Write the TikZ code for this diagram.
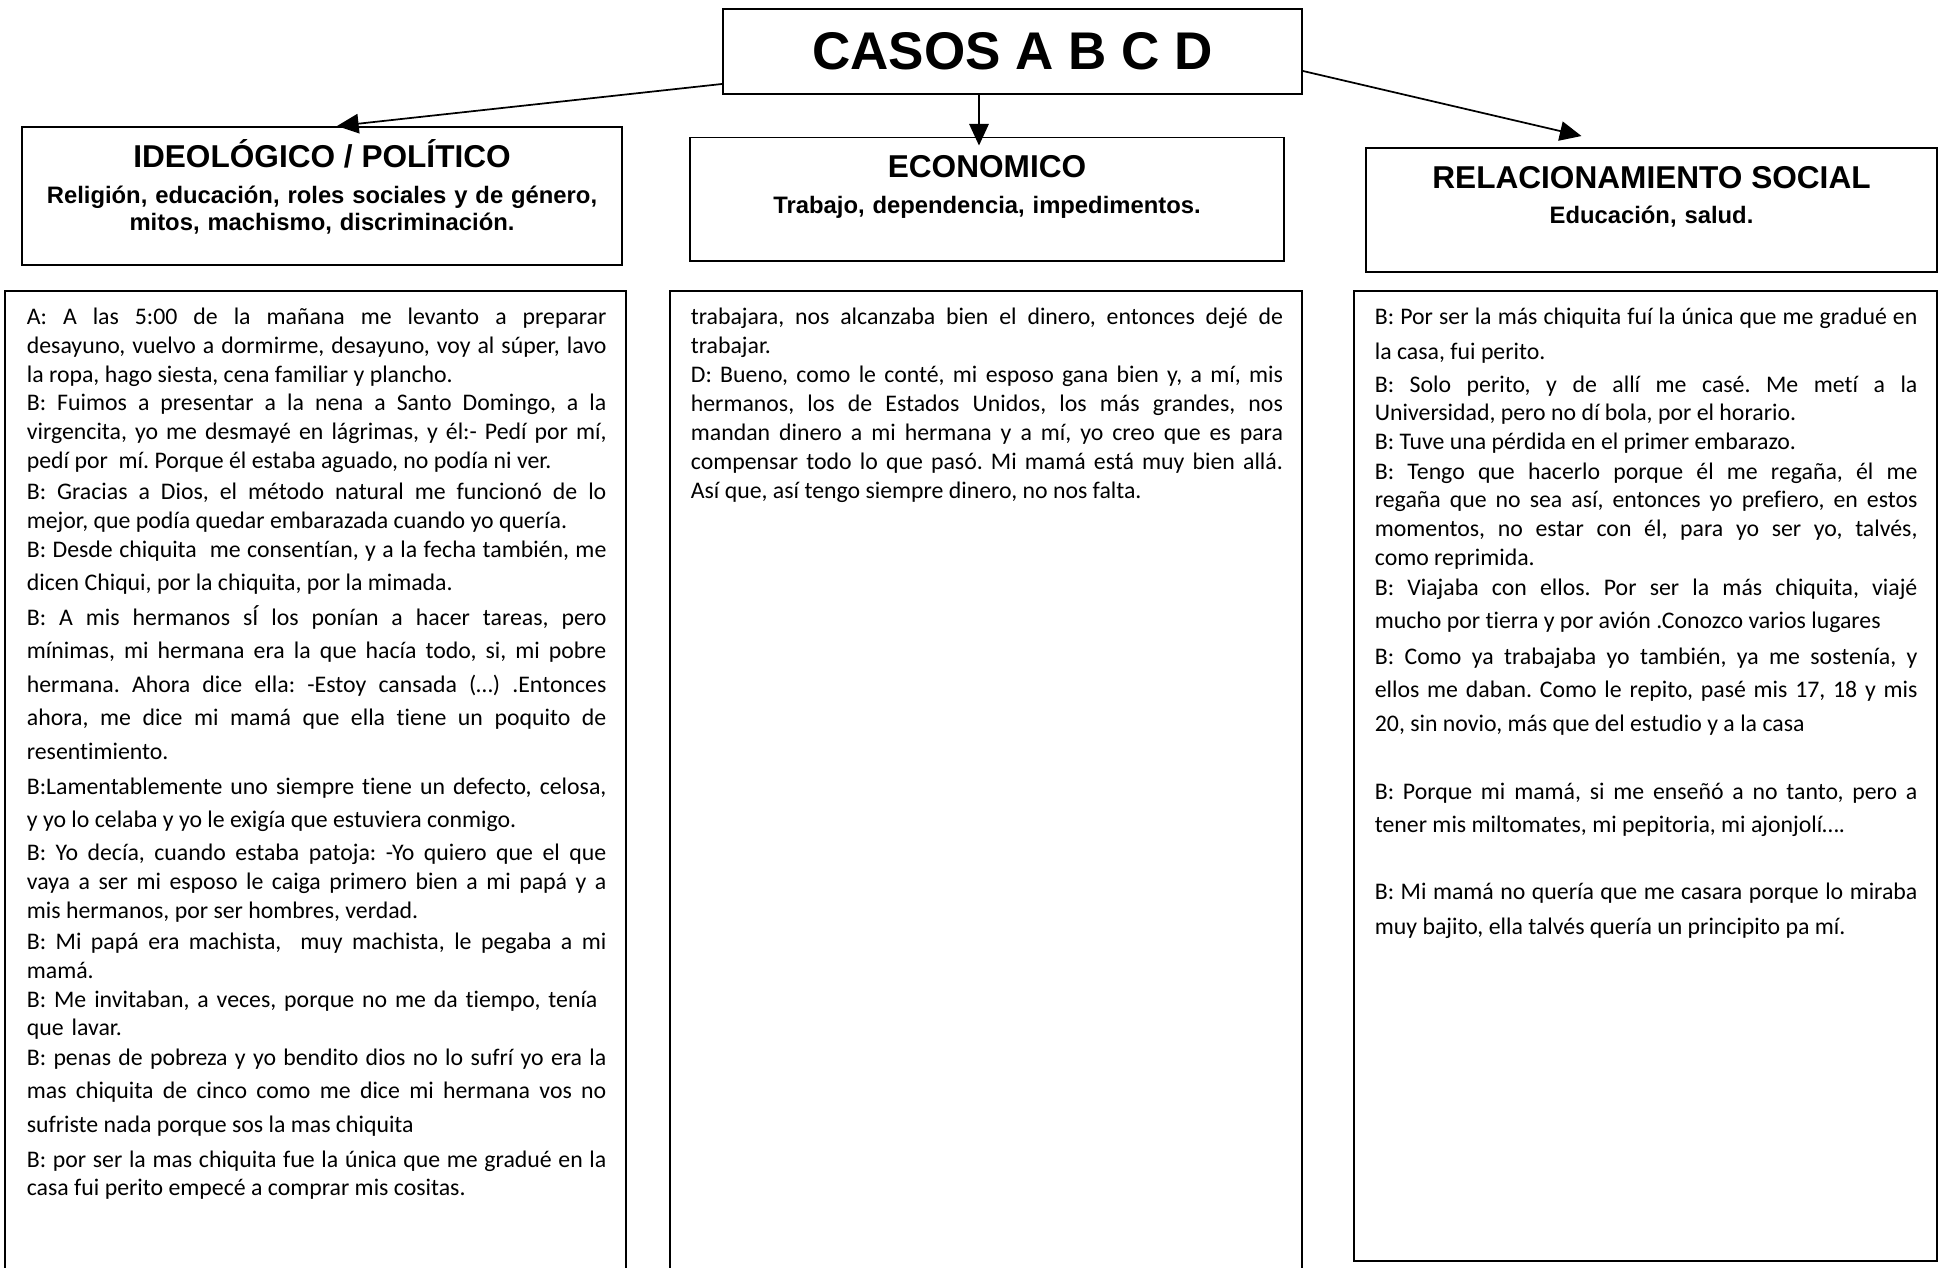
\documentclass[tikz,border=0pt]{standalone}
\usepackage{fontspec}
\setmainfont{Carlito}[Ligatures=NoCommon]
\newfontfamily\headfont{Liberation Sans}
\usetikzlibrary{arrows.meta,calc}
\frenchspacing

\newcommand{\pxu}{0.4621pt}

\tikzset{
  every picture/.style={line width=0.8pt},
  hbox/.style={draw, line width=0.9pt, inner sep=0},
  colbox/.style={draw, line width=0.9pt},
  arr/.style={-{Triangle[length=10pt,width=9pt]}, line width=0.8pt},
  htxt/.style={font=\headfont\bfseries\fontsize{14.6}{17}\selectfont, anchor=base, inner sep=0},
  stxt/.style={font=\headfont\bfseries\fontsize{11}{12.25}\selectfont, anchor=base, inner sep=0,
    align=center, text width=270pt},
  para/.style={anchor=base west, inner sep=0, align=justify, font=\fontsize{11}{#1}\selectfont},
  para/.default=13.4pt,
  lcol/.style={text width=267.8pt},
  mcol/.style={text width=273.6pt},
  rcol/.style={text width=250.7pt},
}

\begin{document}
\begin{tikzpicture}[x=\pxu, y=-\pxu]
  \clip (0,0) rectangle (1938,1268);

  % top boxes
  \node[hbox, minimum width=579*\pxu, minimum height=85*\pxu,
    font=\headfont\bfseries\fontsize{24.5}{29}\selectfont] (casos) at (1012.5,51.5) {CASOS A B C D};
  \node[hbox, minimum width=600*\pxu, minimum height=138*\pxu] (ideo) at (322,196) {};
  \node[hbox, minimum width=594*\pxu, minimum height=123.5*\pxu] (econ) at (987,199.25) {};
  \node[hbox, minimum width=571*\pxu, minimum height=124*\pxu] (relac) at (1651.5,210) {};

  \node[htxt] (ideoT) at (322,167) {IDEOLÓGICO / POLÍTICO};
  \node[stxt] (ideoS) at (322,203.5) {Religión, educación, roles sociales y de género,\\ mitos, machismo, discriminación.};
  \node[htxt] (econT) at (987,177) {ECONOMICO};
  \node[stxt] (econS) at (987,213) {Trabajo, dependencia, impedimentos.};
  \node[htxt] (relacT) at (1651.5,188) {RELACIONAMIENTO SOCIAL};
  \node[stxt] (relacS) at (1651.5,223) {Educación, salud.};

  \draw[arr] ($(casos.south west)+(0,-11)$) -- ($(ideo.north)+(15,0)$);
  \draw[arr] ($(casos.south)+(-33.5,0)$) -- ($(casos.south |- econ.north)+(-33.5,9)$);
  \draw[arr] ($(casos.east)+(0,19.5)$) -- ($(relac.north)+(-70,-11)$);

  % text columns
  \draw[colbox] (5,291) rectangle (626,1290);
  \draw[colbox] (670,291) rectangle (1302,1290);
  \draw[colbox] (1354,291) rectangle (1937,1261);

  \node[para, lcol] (l1) at (26,324) {A: A las 5:00 de la mañana me levanto a preparar\linebreak
    desayuno, vuelvo a dormirme, desayuno, voy al súper, lavo\linebreak
    la ropa, hago siesta, cena familiar y plancho.};
  \node[para, lcol] (l2) at (26,410) {B: Fuimos a presentar a la nena a Santo Domingo, a la\linebreak
    virgencita, yo me desmayé en lágrimas, y él:- Pedí por mí,\linebreak
    pedí por\ \ mí. Porque él estaba aguado, no podía ni ver.};
  \node[para, lcol] (l3) at (26,499) {B: Gracias a Dios, el método natural me funcionó de lo\linebreak
    mejor, que podía quedar embarazada cuando yo quería.};
  \node[para=15.4pt, lcol] (l4) at (26,557) {B: Desde chiquita\ \ me consentían, y a la fecha también, me\linebreak
    dicen Chiqui, por la chiquita, por la mimada.};
  \node[para=15.5pt, lcol] (l5) at (26,625) {B: A mis hermanos sÍ los ponían a hacer tareas, pero\linebreak
    mínimas, mi hermana era la que hacía todo, si, mi pobre\linebreak
    hermana. Ahora dice ella: -Estoy cansada (…) .Entonces\linebreak
    ahora, me dice mi mamá que ella tiene un poquito de\linebreak
    resentimiento.};
  \node[para=15.4pt, lcol] (l6) at (26,794) {B:Lamentablemente uno siempre tiene un defecto, celosa,\linebreak
    y yo lo celaba y yo le exigía que estuviera conmigo.};
  \node[para, lcol] (l7) at (26,860) {B: Yo decía, cuando estaba patoja: -Yo quiero que el que\linebreak
    vaya a ser mi esposo le caiga primero bien a mi papá y a\linebreak
    mis hermanos, por ser hombres, verdad.};
  \node[para=13.8pt, lcol] (l8) at (26,949) {B: Mi papá era machista,\ \ muy machista, le pegaba a mi\linebreak
    mamá.};
  \node[para=13.1pt, lcol, align=left] (l9) at (26,1007) {B: Me invitaban, a veces, porque no me da tiempo, tenía\\
    que lavar.};
  \node[para=15.7pt, lcol] (l10) at (26,1065) {B: penas de pobreza y yo bendito dios no lo sufrí yo era la\linebreak
    mas chiquita de cinco como me dice mi hermana vos no\linebreak
    sufriste nada porque sos la mas chiquita};
  \node[para=13.1pt, lcol] (l11) at (26,1167) {B: por ser la mas chiquita fue la única que me gradué en la\linebreak
    casa fui perito empecé a comprar mis cositas.};

  \node[para, mcol] (m1) at (690,324) {trabajara, nos alcanzaba bien el dinero, entonces dejé de\linebreak
    trabajar.};
  \node[para=13.5pt, mcol] (m2) at (690,382) {D: Bueno, como le conté, mi esposo gana bien y, a mí, mis\linebreak
    hermanos, los de Estados Unidos, los más grandes, nos\linebreak
    mandan dinero a mi hermana y a mí, yo creo que es para\linebreak
    compensar todo lo que pasó. Mi mamá está muy bien allá.\linebreak
    Así que, así tengo siempre dinero, no nos falta.};

  \node[para=16.2pt, rcol] (r1) at (1374,324) {B: Por ser la más chiquita fuí la única que me gradué en\linebreak
    la casa, fui perito.};
  \node[para=13.1pt, rcol] (r2) at (1374,392) {B: Solo perito, y de allí me casé. Me metí a la\linebreak
    Universidad, pero no dí bola, por el horario.};
  \node[para, rcol] (r3) at (1374,449) {B: Tuve una pérdida en el primer embarazo.};
  \node[para=13.35pt, rcol] (r4) at (1374,479) {B: Tengo que hacerlo porque él me regaña, él me\linebreak
    regaña que no sea así, entonces yo prefiero, en estos\linebreak
    momentos, no estar con él, para yo ser yo, talvés,\linebreak
    como reprimida.};
  \node[para=15.4pt, rcol] (r5) at (1374,595) {B: Viajaba con ellos. Por ser la más chiquita, viajé\linebreak
    mucho por tierra y por avión .Conozco varios lugares};
  \node[para=15.7pt, rcol] (r6) at (1374,664) {B: Como ya trabajaba yo también, ya me sostenía, y\linebreak
    ellos me daban. Como le repito, pasé mis 17, 18 y mis\linebreak
    20, sin novio, más que del estudio y a la casa};
  \node[para=15.4pt, rcol] (r7) at (1374,799) {B: Porque mi mamá, si me enseñó a no tanto, pero a\linebreak
    tener mis miltomates, mi pepitoria, mi ajonjolí….};
  \node[para=16.2pt, rcol] (r8) at (1374,899) {B: Mi mamá no quería que me casara porque lo miraba\linebreak
    muy bajito, ella talvés quería un principito pa mí.};
\end{tikzpicture}
\end{document}
